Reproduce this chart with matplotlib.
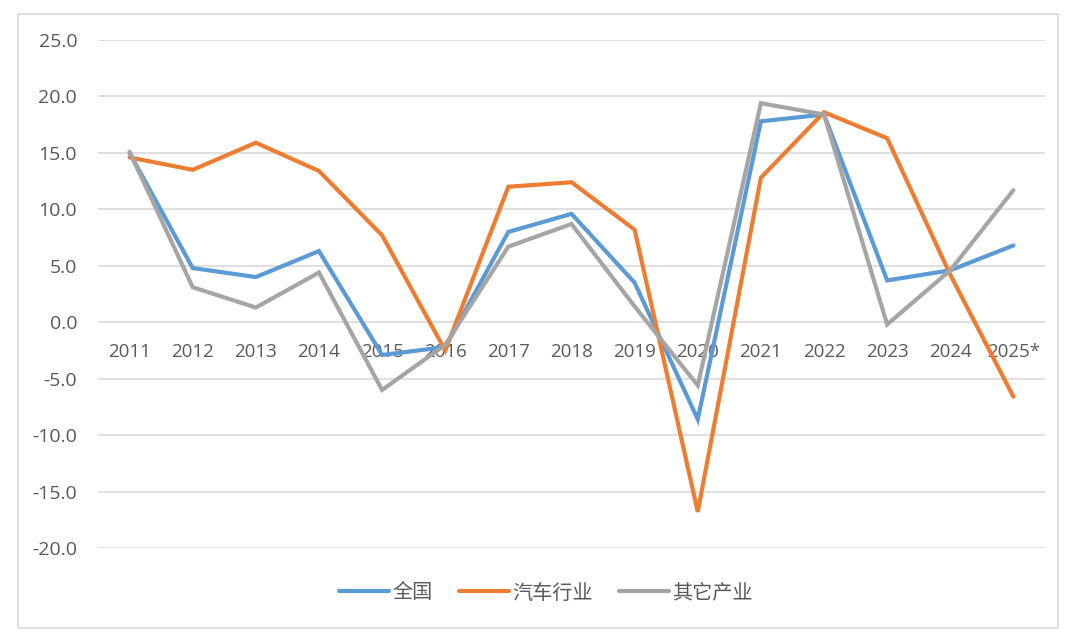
import matplotlib
matplotlib.use("Agg")
import matplotlib.pyplot as plt
from matplotlib.patches import Rectangle

plt.rcParams['font.family'] = ['Noto Sans CJK SC', 'DejaVu Sans']

years = ['2011', '2012', '2013', '2014', '2015', '2016', '2017', '2018', '2019',
         '2020', '2021', '2022', '2023', '2024', '2025*']
national = [15.0, 4.8, 4.0, 6.3, -2.9, -2.2, 8.0, 9.6, 3.5, -8.6, 17.8, 18.4, 3.7, 4.6, 6.8]
auto = [14.6, 13.5, 15.9, 13.4, 7.7, -2.5, 12.0, 12.4, 8.2, -16.8, 12.8, 18.6, 16.3, 4.2, -6.6]
others = [15.1, 3.1, 1.3, 4.4, -6.0, -2.0, 6.7, 8.7, 1.4, -5.6, 19.4, 18.4, -0.2, 4.6, 11.7]
series_names = ['全国', '汽车行业', '其它产业']
colors = ['#5B9BD5', '#ED7D31', '#A5A5A5']
yticks = [-20, -15, -10, -5, 0, 5, 10, 15, 20, 25]

fig = plt.figure(figsize=(10.8, 6.39), dpi=100)
fig.patches.append(Rectangle((18/1080, 1-628/639), 1040/1080, 614/639,
                             transform=fig.transFigure, fill=False,
                             edgecolor='#d9d9d9', linewidth=1.2))
ax = fig.add_axes([98/1080, 1-548/639, 947/1080, 508/639])

x = list(range(len(years)))
for data, name, c in zip([national, auto, others], series_names, colors):
    ax.plot(x, data, color=c, linewidth=3.0, label=name, solid_joinstyle='miter',
            solid_capstyle='round')

ax.set_xlim(-0.5, len(years) - 0.5)
ax.set_ylim(-20, 25)
ax.set_yticks(yticks)
ax.set_yticklabels([f'{v:.1f}' for v in yticks], fontfamily='Open Sans')
ax.yaxis.grid(True, color='#d9d9d9', linewidth=1.2)
ax.set_axisbelow(True)
for s in ax.spines.values():
    s.set_visible(False)
ax.spines['bottom'].set_position(('data', 0))
ax.set_xticks(x)
ax.set_xticklabels(years, fontfamily='Open Sans')
ax.tick_params(axis='x', length=0, pad=15, labelsize=13.5, labelcolor='#595959')
ax.tick_params(axis='y', length=0, pad=15, labelsize=14, labelcolor='#595959')

leg = fig.legend(loc='center', bbox_to_anchor=(546/1080, 1-593/639), ncol=3,
                 frameon=False, fontsize=14.5, handlelength=2.5, handletextpad=0.15,
                 columnspacing=1.3)
for t in leg.get_texts():
    t.set_color('#595959')

fig.savefig('out.png', dpi=100)
